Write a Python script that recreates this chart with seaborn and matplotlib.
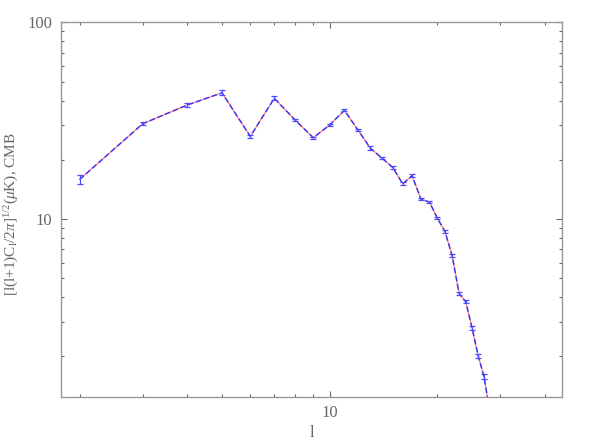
import numpy as np
import pandas as pd
import matplotlib
matplotlib.use("Agg")
import matplotlib.pyplot as plt
import matplotlib.ticker as mticker
import seaborn as sns

# multipole l and band power values
ell = [2, 3, 4, 5, 6, 7, 8, 9, 10, 11, 12, 13, 14, 15, 16, 17, 18, 19, 20,
       21, 22, 23, 24, 25, 26, 27, 28]
power = [15.9, 30.5, 38.0, 43.8, 26.3, 41.1, 31.9, 25.9, 30.1, 35.7, 28.3, 22.9,
         20.4, 18.3, 15.1, 16.6, 12.6, 12.2, 10.1, 8.65, 6.5, 4.18, 3.8, 2.8,
         2.02, 1.58, 1.06]
err = [0.8, 0.6, 0.7, 1.3, 0.35, 0.9, 0.5, 0.3, 0.35, 0.45, 0.3, 0.55,
       0.25, 0.25, 0.25, 0.3, 0.15, 0.2, 0.15, 0.12, 0.1, 0.08, 0.07, 0.06,
       0.05, 0.04, 0.03]

df = pd.DataFrame({"l": ell, "power": power, "err": err})

sns.set_theme(style="ticks")
plt.rcParams["font.family"] = ["Liberation Serif", "DejaVu Serif"]
plt.rcParams["mathtext.fontset"] = "custom"
plt.rcParams["mathtext.rm"] = "Liberation Serif"
plt.rcParams["mathtext.it"] = "Liberation Serif:italic"
grey = "#666666"

fig = plt.figure(figsize=(5.98, 4.47), dpi=100)
ax = fig.add_axes([0.1015, 0.112, 0.8388, 0.838])

sns.lineplot(data=df, x="l", y="power", color="#ff8c8c", linewidth=1.0, ax=ax)
sns.lineplot(data=df, x="l", y="power", color="#3030ff", linewidth=1.0,
             linestyle=(0, (4, 2)), ax=ax)
ax.errorbar(df["l"], df["power"], yerr=df["err"], fmt="none", ecolor="#4a4aff",
            elinewidth=0.9, capsize=2.5, capthick=0.9)

ax.set_xscale("log")
ax.set_yscale("log")
ax.set_xlim(1.77, 44.7)
ax.set_ylim(1.245, 100)

fmt = mticker.FuncFormatter(lambda v, p: "%g" % v)
ax.xaxis.set_major_formatter(fmt)
ax.yaxis.set_major_formatter(fmt)
ax.xaxis.set_minor_formatter(mticker.NullFormatter())
ax.yaxis.set_minor_formatter(mticker.NullFormatter())

ax.tick_params(which="both", direction="in", top=True, right=True,
               colors=grey, labelcolor=grey, labelsize=12, width=0.8)
ax.tick_params(which="major", length=4.5, pad=6)
ax.tick_params(which="minor", length=2.2)
for s in ax.spines.values():
    s.set_color("#999999")
    s.set_linewidth(1.0)

ax.set_xlabel("l", color=grey, fontsize=12, labelpad=3)
ax.set_ylabel("")
fig.text(12 / 598, 1 - 214 / 447,
         r"[l(l+1)C$_{\rm l}$/2$\pi$]$^{1/2}$($\mu$K), CMB",
         color=grey, fontsize=11, rotation=90, ha="center", va="center")

fig.savefig("out.png", dpi=100)
